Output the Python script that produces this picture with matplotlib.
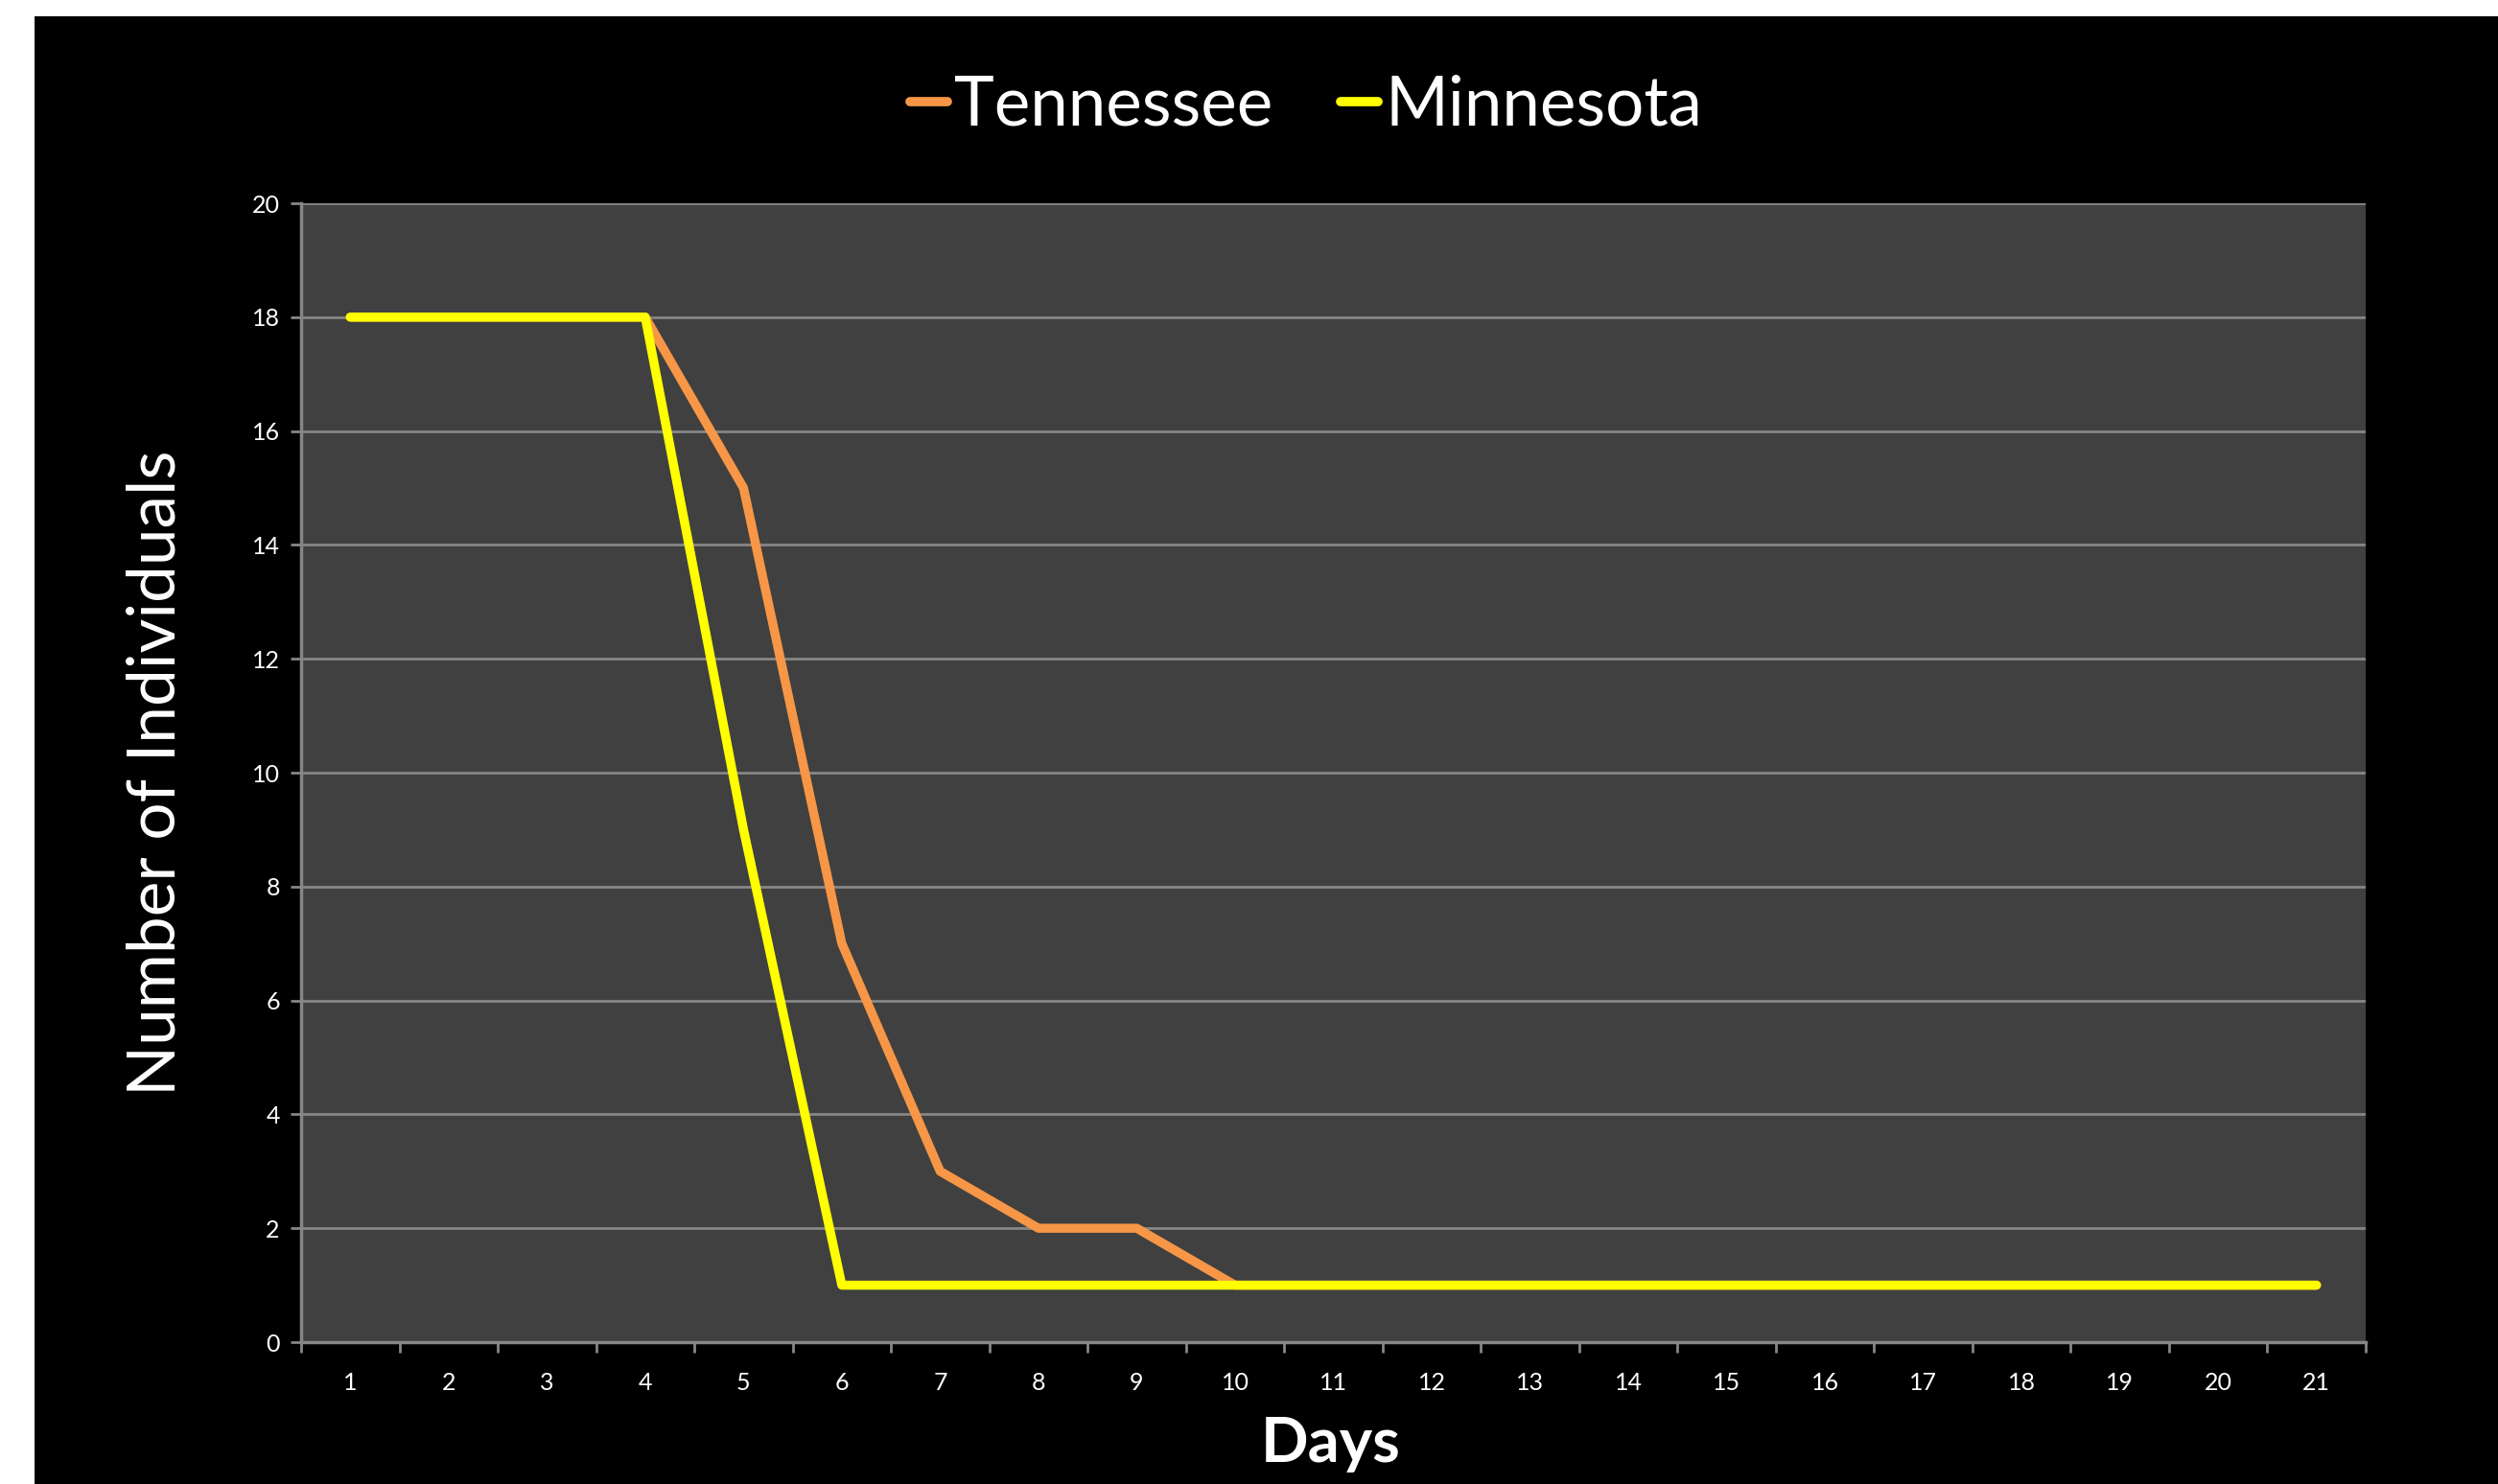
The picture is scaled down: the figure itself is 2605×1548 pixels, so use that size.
import matplotlib
matplotlib.use("Agg")
import matplotlib.pyplot as plt
from matplotlib.patches import Rectangle

# --- Data ---
days = list(range(1, 22))
tennessee = [18, 18, 18, 18, 15, 7, 3, 2, 2, 1, 1, 1, 1, 1, 1, 1, 1, 1, 1, 1, 1]
minnesota = [18, 18, 18, 18, 9, 1, 1, 1, 1, 1, 1, 1, 1, 1, 1, 1, 1, 1, 1, 1, 1]
y_ticks = list(range(0, 21, 2))

plt.rcParams['font.family'] = ['Lato', 'DejaVu Sans']

W, H = 2605, 1548
fig = plt.figure(figsize=(W / 100, H / 100), dpi=100, facecolor='white')

# black slide background with a thin white margin left/top
fig.patches.append(Rectangle((36 / W, 0), 1 - 36 / W, 1 - 17 / H,
                             transform=fig.transFigure, facecolor='black',
                             edgecolor='none', zorder=-10))

ax = fig.add_axes([314 / W, 1 - 1400 / H, (2467 - 314) / W, (1400 - 212) / H])
ax.set_facecolor('#404040')

ax.plot(days, tennessee, color='#F79646', lw=6.8, solid_joinstyle='round',
        solid_capstyle='round', label='Tennessee', zorder=3)
ax.plot(days, minnesota, color='#FFFF00', lw=6.8, solid_joinstyle='round',
        solid_capstyle='round', label='Minnesota', zorder=4)

ax.set_xlim(0.5, 21.5)
ax.set_ylim(0, 20)

# category axis: ticks on boundaries, labels centered between
ax.set_xticks([d + 0.5 for d in [0] + days])
ax.set_xticklabels([])
ax.set_xticks(days, minor=True)
ax.set_xticklabels([str(d) for d in days], minor=True)
ax.tick_params(axis='x', which='major', length=8, width=2, color='#868686',
               direction='out')
ax.tick_params(axis='x', which='minor', length=0, pad=22, labelsize=18,
               labelcolor='white')

ax.set_yticks(y_ticks)
ax.set_yticklabels([str(v) for v in y_ticks])
ax.tick_params(axis='y', length=8, width=2, color='#868686', direction='out',
               labelsize=18, labelcolor='white', pad=8)

ax.grid(axis='y', color='#868686', lw=2)
ax.set_axisbelow(True)
for side in ['top', 'right']:
    ax.spines[side].set_visible(False)
for side in ['left', 'bottom']:
    ax.spines[side].set_color('#868686')
    ax.spines[side].set_linewidth(2.5)

fig.text(163 / W, 1 - 806 / H, 'Number of Individuals', rotation=90,
         ha='center', va='center', color='white', fontsize=50)
fig.text(1388 / W, 1 - 1506 / H, 'Days', ha='center', va='center',
         color='white', fontsize=47, fontweight='bold')

leg = fig.legend(loc='center', bbox_to_anchor=(1362 / W, 1 - 110 / H),
                 ncol=2, frameon=False, fontsize=51, handlelength=0.55,
                 handletextpad=0.1, columnspacing=1.0, labelcolor='white')
for line in leg.get_lines():
    line.set_linewidth(7)

fig.savefig('out.png', dpi=100, facecolor=fig.get_facecolor())
